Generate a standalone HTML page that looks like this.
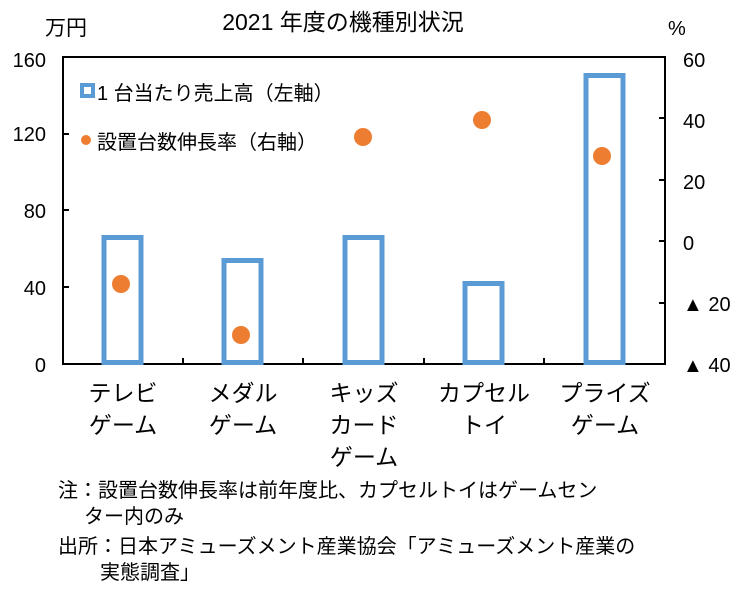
<!DOCTYPE html><html><head><meta charset="utf-8"><style>
body{margin:0;background:#fff;width:750px;height:590px;overflow:hidden;font-family:"Liberation Sans","Noto Sans CJK JP",sans-serif;}
</style></head><body>
<svg width="750" height="590" xmlns="http://www.w3.org/2000/svg" font-family="Liberation Sans, Noto Sans CJK JP, sans-serif" fill="#000">
<text x="45" y="35" font-size="21">万円</text>
<text x="343" y="30" font-size="23" text-anchor="middle">2021 年度の機種別状況</text>
<text x="668" y="35" font-size="20">%</text>
<g font-size="20" text-anchor="end">
<text x="46" y="67">160</text><text x="46" y="141">120</text><text x="46" y="218">80</text><text x="46" y="295">40</text><text x="46" y="372">0</text>
</g>
<g font-size="20">
<text x="683" y="67">60</text><text x="683" y="128">40</text><text x="683" y="189">20</text><text x="683" y="250">0</text>
<text x="683" y="311">▲ 20</text><text x="683" y="372">▲ 40</text>
</g>
<g fill="none" stroke="#000" stroke-width="2">
<rect x="63" y="57" width="602" height="307"/>
<line x1="63" y1="287" x2="69" y2="287"/><line x1="63" y1="210" x2="69" y2="210"/><line x1="63" y1="134" x2="69" y2="134"/>
<line x1="665" y1="118" x2="659" y2="118"/><line x1="665" y1="180" x2="659" y2="180"/><line x1="665" y1="241" x2="659" y2="241"/><line x1="665" y1="303" x2="659" y2="303"/>
<line x1="183" y1="364" x2="183" y2="358"/><line x1="303" y1="364" x2="303" y2="358"/><line x1="424" y1="364" x2="424" y2="358"/><line x1="544" y1="364" x2="544" y2="358"/>
</g>
<g fill="none" stroke="#5b9bd5" stroke-width="5">
<rect x="104" y="237.5" width="37" height="125"/>
<rect x="224" y="260.5" width="37" height="102"/>
<rect x="345" y="237.5" width="37" height="125"/>
<rect x="465" y="283.5" width="37" height="79"/>
<rect x="586" y="75.5" width="37" height="287"/>
</g>
<g fill="#ed7d31">
<circle cx="121" cy="284" r="9"/><circle cx="241" cy="335" r="9"/><circle cx="363" cy="137" r="9"/><circle cx="482" cy="120" r="9"/><circle cx="602" cy="156" r="9"/>
<circle cx="86" cy="140" r="5"/>
</g>
<rect x="82" y="85" width="11" height="11" fill="#fff" stroke="#5b9bd5" stroke-width="4"/>
<text x="97" y="100" font-size="20">1 台当たり売上高（左軸）</text>
<text x="97" y="149" font-size="20">設置台数伸長率（右軸）</text>
<g font-size="23" text-anchor="middle">
<text x="123" y="401">テレビ</text><text x="123" y="433">ゲーム</text>
<text x="243" y="401">メダル</text><text x="243" y="433">ゲーム</text>
<text x="364" y="401">キッズ</text><text x="364" y="433">カード</text><text x="364" y="465">ゲーム</text>
<text x="484" y="401">カプセル</text><text x="484" y="433">トイ</text>
<text x="605" y="401">プライズ</text><text x="605" y="433">ゲーム</text>
</g>
<g font-size="20">
<text x="58" y="497">注：設置台数伸長率は前年度比、カプセルトイはゲームセン</text>
<text x="84" y="523">ター内のみ</text>
<text x="58" y="553">出所：日本アミューズメント産業協会「アミューズメント産業の</text>
<text x="100" y="579">実態調査」</text>
</g>
</svg>
</body></html>
